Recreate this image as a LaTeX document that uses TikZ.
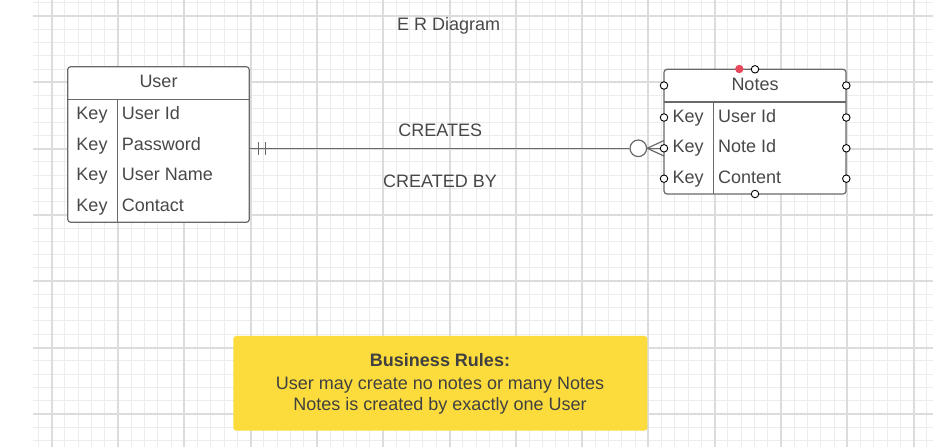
\documentclass[tikz,border=0pt]{standalone}
\usepackage{fontspec}
\setmainfont{Liberation Sans}
\definecolor{minorc}{RGB}{236,236,236}
\definecolor{majorc}{RGB}{220,220,220}
\definecolor{linec}{RGB}{105,105,105}
\definecolor{txtc}{RGB}{72,72,72}
\definecolor{notec}{RGB}{252,220,60}
\definecolor{dotc}{RGB}{232,72,92}
\begin{document}
\begin{tikzpicture}[x=1pt,y=-1pt,
  txt/.style={text=txtc, font=\fontsize{18}{21}\selectfont, inner sep=0pt, anchor=base},
  fld/.style={txt, anchor=base west},
  tablebox/.style={draw=linec, line width=1.2pt, fill=white, rounded corners=3pt, inner sep=0pt},
  sep/.style={draw=linec, line width=1.1pt},
  port/.style={circle, draw=black, line width=0.9pt, fill=white, minimum size=7.5pt, inner sep=0pt},
  conn/.style={draw=linec, line width=1.2pt}]
\useasboundingbox (0,0) rectangle (949,447);
\fill[white] (0,0) rectangle (949,447);
% grid
\foreach \i in {-1,...,66} {
  \pgfmathsetmacro\xx{floor(51.7+\i*13.26)+0.5}
  \draw[minorc, line width=1pt] (\xx,0) -- (\xx,447);
}
\foreach \j in {-1,...,32} {
  \pgfmathsetmacro\yy{floor(16+\j*13.26)+0.5}
  \draw[minorc, line width=1pt] (33,\yy) -- (933,\yy);
}
\foreach \i in {0,...,13} {
  \pgfmathsetmacro\xx{round(51.7+\i*66.3)}
  \draw[majorc, line width=2pt] (\xx,0) -- (\xx,447);
}
\foreach \j in {0,...,6} {
  \pgfmathsetmacro\yy{round(16+\j*66.3)}
  \draw[majorc, line width=2pt] (33,\yy) -- (933,\yy);
}

% title
\node[txt] (title) at (448.7,30) {E R Diagram};

% User table
\node[tablebox, minimum width=181.6pt, minimum height=155.6pt] (user) at (158.5,144.5) {};
\draw[sep] (67.7,99.7) -- (249.3,99.7);
\draw[sep] (117.3,99.7) -- (117.3,222.3);
\node[txt] (uh) at (158.5,87.3) {User};
\node[txt] (uk1) at (92,119.3) {Key};
\node[txt] (uk2) at (92,150) {Key};
\node[txt] (uk3) at (92,180.6) {Key};
\node[txt] (uk4) at (92,211.3) {Key};
\node[fld] (uf1) at (121.7,119.3) {User Id};
\node[fld] (uf2) at (121.7,150) {Password};
\node[fld] (uf3) at (121.7,180.6) {User Name};
\node[fld] (uf4) at (121.7,211.3) {Contact};

% Notes table
\node[tablebox, minimum width=182pt, minimum height=124.7pt] (notes) at (755,131.65) {};
\draw[sep] (664,102) -- (846,102);
\draw[sep] (713.3,102) -- (713.3,194);
\node[txt] (nh) at (755,90) {Notes};
\node[txt] (nk1) at (688,122.3) {Key};
\node[txt] (nk2) at (688,152.7) {Key};
\node[txt] (nk3) at (688,183.3) {Key};
\node[fld] (nf1) at (718,122.3) {User Id};
\node[fld] (nf2) at (718,152.7) {Note Id};
\node[fld] (nf3) at (718,183.3) {Content};

% relationship
\coordinate (uport) at (249.3,148.3);
\coordinate (nport) at (664,148.3);
\coordinate (ntop) at (664,140.5);
\coordinate (nbot) at (664,156);
\node[circle, draw=linec, line width=1.2pt, fill=white, minimum size=16.6pt, inner sep=0pt] (zero) at (638.3,148.3) {};
\draw[conn] (uport) -- (zero.west);
\draw[conn] (258.3,141.8) -- (258.3,155);
\draw[conn] (265.3,141.8) -- (265.3,155);
\draw[conn] (zero.east) -- (ntop);
\draw[conn] (zero.east) -- (nport);
\draw[conn] (zero.east) -- (nbot);
\node[txt] (creates) at (440.3,136.7) {CREATES};
\node[txt] (createdby) at (440,187.3) {CREATED BY};

% connection points
\foreach \y/\n in {85.5/a,117.5/b,148.3/c,178.7/d} {
  \node[port] (pl\n) at (664,\y) {};
  \node[port] (pr\n) at (846.3,\y) {};
}
\node[port] (ptop) at (755,69.3) {};
\node[port] (pbot) at (755,194) {};
\fill[dotc] (739.3,69) circle (4.2pt);

% business rules
\node[fill=notec, rounded corners=3pt, minimum width=414pt, minimum height=94.7pt, inner sep=0pt] (rules) at (440.3,383.3) {};
\node[txt, font=\bfseries\fontsize{18}{21}\selectfont, text=black!75] (r1) at (440,366.7) {Business Rules:};
\node[txt, text=black!75] (r2) at (440,389) {User may create no notes or many Notes};
\node[txt, text=black!75] (r3) at (440,410.7) {Notes is created by exactly one User};
\end{tikzpicture}
\end{document}
